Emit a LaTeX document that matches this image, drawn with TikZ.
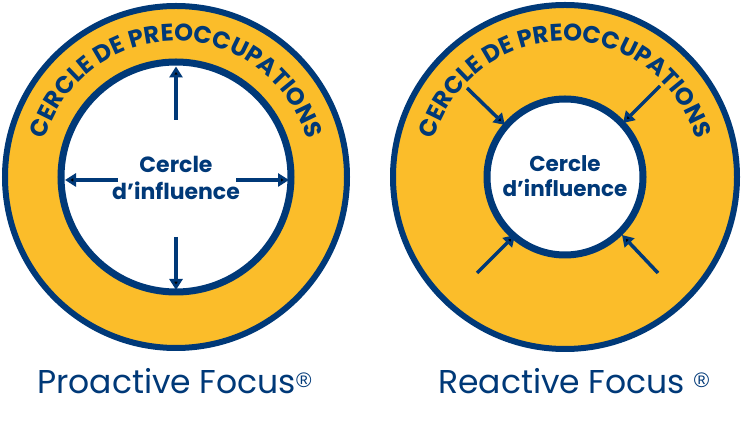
\documentclass[tikz,border=0pt]{standalone}
\usepackage{fontspec}
\setmainfont{Poppins}
\newfontfamily\regfont{Liberation Sans}
\usetikzlibrary{arrows.meta,decorations.text}
\definecolor{navy}{RGB}{0,57,120}
\definecolor{gold}{RGB}{251,189,42}
\tikzset{
  outerring/.style={draw=navy,line width=6pt,fill=gold},
  innerring/.style={draw=navy,line width=7pt,fill=white},
  arr/.style={draw=navy,line width=3.5pt,-{Triangle[width=13pt,length=11pt]}},
  centertext/.style={text=navy,align=center,font=\bfseries\fontsize{22}{27}\selectfont},
  caption/.style={text=navy,anchor=base west,font=\fontsize{33}{33}\selectfont,inner sep=0pt},
}
\newcommand{\regmark}{\raisebox{6pt}{\regfont\fontsize{21}{21}\selectfont ®}}
\begin{document}
\begin{tikzpicture}[x=1pt,y=1pt]
\useasboundingbox[fill=white] (0,0) rectangle (742,425);
% left diagram
\coordinate (lc) at (176,248);
\node[outerring,circle,minimum size=342pt,inner sep=0pt] (lout) at (lc) {};
\node[innerring,circle,minimum size=230pt,inner sep=0pt] (lin) at (lc) {};
\path[decorate,decoration={text along path,text align=center,text color=navy,
  text={|\bfseries\fontsize{24}{24}\selectfont|CERCLE DE PREOCCUPATIONS}}]
  (40,248) arc[start angle=180,end angle=0,radius=136];
\node[centertext] (ltxt) at (176,247) {Cercle\\d’influence};
\coordinate (lt1) at (176,305); \coordinate (lt2) at (176,358.5);
\coordinate (ll1) at (118,245); \coordinate (ll2) at (65,245);
\coordinate (lr1) at (236,245); \coordinate (lr2) at (289,245);
\coordinate (lb1) at (176,188); \coordinate (lb2) at (176,135);
\draw[arr] (lt1) -- (lt2);
\draw[arr] (ll1) -- (ll2);
\draw[arr] (lr1) -- (lr2);
\draw[arr] (lb1) -- (lb2);
\node[caption] (lcap) at (37,31) {Proactive Focus\regmark};
% right diagram
\coordinate (rc) at (565,248);
\node[outerring,circle,minimum size=344pt,inner sep=0pt] (rout) at (rc) {};
\node[innerring,circle,minimum size=156pt,inner sep=0pt] (rin) at (rc) {};
\path[decorate,decoration={text along path,text align=center,text color=navy,
  text={|\bfseries\fontsize{24}{24}\selectfont|CERCLE DE PREOCCUPATIONS}}]
  (429,248) arc[start angle=180,end angle=0,radius=136];
\node[centertext,font=\bfseries\fontsize{21.5}{25}\selectfont] (rtxt) at (565,249) {Cercle\\d’influence};
\coordinate (a1) at (467,337); \coordinate (a2) at (505,300);
\coordinate (b1) at (660,339); \coordinate (b2) at (623,302);
\coordinate (c1) at (477,152); \coordinate (c2) at (515,190);
\coordinate (d1) at (658,152); \coordinate (d2) at (622,190);
\draw[arr] (a1) -- (a2);
\draw[arr] (b1) -- (b2);
\draw[arr] (c1) -- (c2);
\draw[arr] (d1) -- (d2);
\node[caption] (rcap) at (438,31) {Reactive Focus \regmark};
\end{tikzpicture}
\end{document}
